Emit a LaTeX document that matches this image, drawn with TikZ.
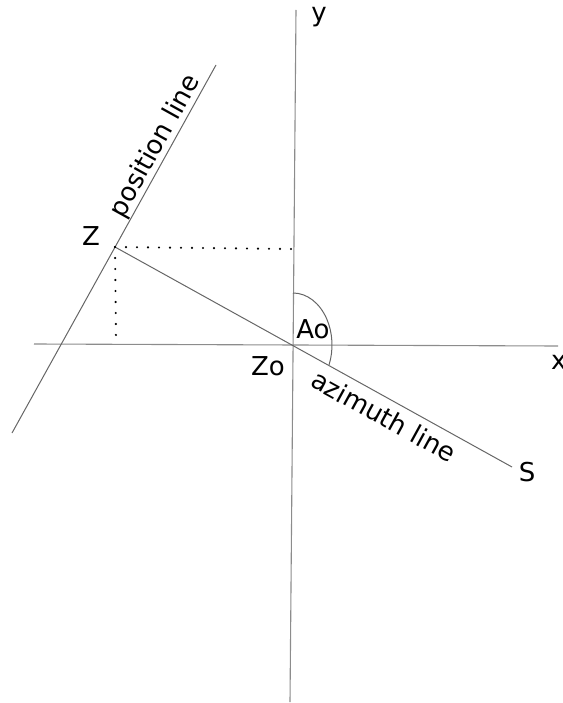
\documentclass[tikz,border=0pt]{standalone}
\usepackage{fontspec}
\setmainfont{DejaVu Sans}
\begin{document}
\begin{tikzpicture}[x=1pt,y=-1pt,
  axis/.style={draw=black!45,line width=1.1pt},
  ln/.style={draw=black!60,line width=1pt},
  dotline/.style={draw=black,line width=2.4pt,dash pattern=on 0pt off 11pt,line cap=round},
  lbl/.style={font=\fontsize{26}{30}\selectfont,inner sep=0pt}]
\useasboundingbox (0,0) rectangle (562,703);
% coordinates
\coordinate (ytop) at (296,10);
\coordinate (ybot) at (290,702);
\coordinate (xl) at (34,344);
\coordinate (xr) at (558,346);
\coordinate (O) at (293,345);
\coordinate (Z) at (115,247);
\coordinate (ptop) at (216,65);
\coordinate (pbot) at (12,433);
\coordinate (S) at (512,467);
\coordinate (Zy) at (291,249);
\coordinate (Zx) at (116,340);
% axes
\draw[axis] (ytop) -- (ybot);
\draw[axis] (xl) -- (xr);
% lines
\draw[ln] (ptop) -- (pbot);
\draw[ln] (Z) -- (S);
% dotted projections
\draw[dotline] (Z) -- (Zy);
\draw[dotline] (Z) -- (Zx);
% angle arc
\draw[ln] (293,293) arc[start angle=90,end angle=-22.4,x radius=39,y radius=-52];
% labels
\node[lbl] (ly) at (319,17) {y};
\node[lbl,anchor=west] (lx) at (551,362) {x};
\node[lbl] (lZ) at (91,236) {Z};
\node[lbl] (lZo) at (268,366) {Zo};
\node[lbl] (lAo) at (313,329) {Ao};
\node[lbl] (lS) at (527,472) {S};
\node[lbl,rotate=61,anchor=base] (lpos) at (162,150) {position line};
\node[lbl,rotate=-28.8] (laz) at (384,416) {azimuth line};
\end{tikzpicture}
\end{document}
